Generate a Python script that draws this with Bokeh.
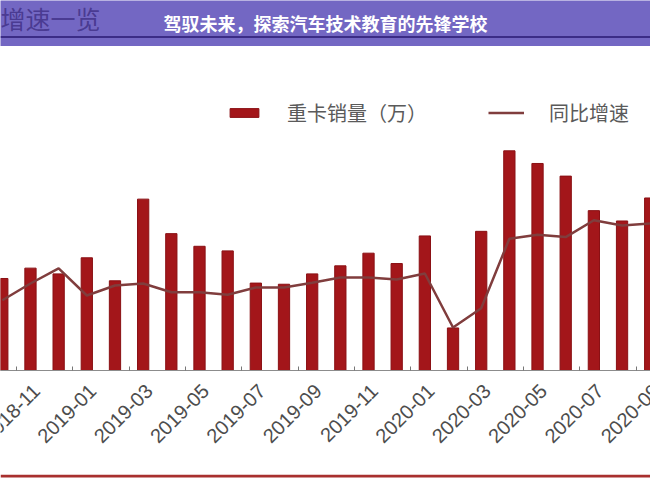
import math
from bokeh.plotting import figure
from bokeh.layouts import column
from bokeh.models import (Range1d, FixedTicker, Legend, LegendItem, Label, Span,
                          ColumnDataSource)
from bokeh.core.properties import value
from bokeh.embed import file_html
from bokeh.resources import INLINE
from bokeh.core.validation import silence
from bokeh.core.validation.warnings import MISSING_RENDERERS

silence(MISSING_RENDERERS, True)

# ---------------- data ----------------
months = ["2018-10", "2018-11", "2018-12", "2019-01", "2019-02", "2019-03",
          "2019-04", "2019-05", "2019-06", "2019-07", "2019-08", "2019-09",
          "2019-10", "2019-11", "2019-12", "2020-01", "2020-02", "2020-03",
          "2020-04", "2020-05", "2020-06", "2020-07", "2020-08", "2020-09"]
sales = [8.0, 8.9, 8.4, 9.8, 7.8, 14.9, 11.9, 10.8, 10.4, 7.6, 7.5, 8.4,
         9.1, 10.2, 9.3, 11.7, 3.7, 12.1, 19.1, 18.0, 16.9, 13.9, 13.0, 15.0]
growth = [-16, 5, 24, -10, 2.5, 5, -6, -6, -9, 0, 0, 6,
          12.5, 12.5, 10, 17.5, -50, -26, 61, 66, 63, 84, 77.5, 80]
tick_labels = ["2018-11", "2019-01", "2019-03", "2019-05", "2019-07", "2019-09",
               "2019-11", "2020-01", "2020-03", "2020-05", "2020-07", "2020-09"]
series_names = ["重卡销量（万）", "同比增速"]
title_text = "驾驭未来，探索汽车技术教育的先锋学校"
banner_text = "增速一览"

xs = list(range(len(months)))
src = ColumnDataSource(dict(x=xs, month=months, sales=sales, growth=growth))
odd = [i for i in xs if i % 2 == 1]
lbl_src = ColumnDataSource(dict(x=odd, text=tick_labels))

PURPLE = "#7367c3"
BAR = "#a3161a"
LINE = "#803d3d"

# ---------------- header ----------------
hdr = figure(width=650, height=46, x_range=Range1d(0, 650), y_range=Range1d(0, 46),
             toolbar_location=None, output_backend="svg", min_border=0,
             x_axis_location=None, y_axis_location=None,
             background_fill_color=PURPLE, border_fill_color=PURPLE,
             outline_line_color=None)
hdr.xgrid.visible = False
hdr.ygrid.visible = False
hdr.add_layout(Label(x=0, y=29, text=banner_text, text_align="left", text_baseline="middle",
                     text_color="#45358c", text_font="Noto Sans CJK SC",
                     text_font_size="25px", text_alpha=0.9))
hdr.add_layout(Label(x=325, y=24, text=title_text, text_align="center", text_baseline="middle",
                     text_color="white", text_font="Noto Sans CJK SC",
                     text_font_style="bold", text_font_size="18px"))
hdr.add_layout(Span(location=9.5, dimension="width", line_color="#3b2c86", line_width=2))

# ---------------- main chart ----------------
xr = Range1d(-0.064, 23.01)
p = figure(width=650, height=325, x_range=xr, y_range=Range1d(0, 28.17),
           toolbar_location=None, output_backend="svg", y_axis_location=None,
           min_border_left=0, min_border_right=0, min_border_top=0, min_border_bottom=1,
           outline_line_color=None, background_fill_color="white", border_fill_color="white")
p.extra_y_ranges = {"g": Range1d(-103.75, 301.25)}
p.xgrid.visible = False
p.ygrid.visible = False

bars = p.vbar(x="x", top="sales", width=0.4, source=src,
              fill_color=BAR, line_color="#8a1014", line_width=1)
line = p.line(x="x", y="growth", source=src, y_range_name="g",
              line_color=LINE, line_width=2.5)

ax = p.xaxis[0]
ax.ticker = FixedTicker(ticks=[], minor_ticks=[i - 0.5 for i in odd])
ax.major_label_standoff = 0
ax.major_tick_line_color = None
ax.major_tick_in = 0
ax.major_tick_out = 0
ax.minor_tick_in = 4
ax.minor_tick_out = 0
ax.minor_tick_line_color = "#777777"
ax.axis_line_color = "#8c8c8c"
ax.axis_line_width = 1.2

legend = Legend(items=[LegendItem(label=series_names[0], renderers=[bars]),
                       LegendItem(label=series_names[1], renderers=[line])],
                orientation="horizontal", location=(226, 243),
                glyph_width=36, glyph_height=11, label_standoff=25, spacing=61,
                padding=0, margin=0, border_line_color=None, background_fill_alpha=0,
                label_text_font="Noto Sans CJK SC", label_text_font_size="20px",
                label_text_color="#5a5a5a")
p.add_layout(legend)

# ---------------- rotated month labels strip (shares the x scale) ----------------
strip = figure(width=650, height=100, x_range=xr, y_range=Range1d(0, 100),
               toolbar_location=None, output_backend="svg", min_border=0,
               x_axis_location=None, y_axis_location=None,
               background_fill_color="white", border_fill_color="white",
               outline_line_color=None)
strip.xgrid.visible = False
strip.ygrid.visible = False
strip.text(x="x", y=89, text="text", source=lbl_src, angle=math.pi / 4,
           x_offset=1, text_align="right", text_baseline="top",
           text_font=value("Liberation Sans"), text_font_size="20px", text_color="#4d4d4d")

# ---------------- footer ----------------
ftr = figure(width=650, height=9, x_range=Range1d(0, 650), y_range=Range1d(0, 9),
             toolbar_location=None, output_backend="svg", min_border=0,
             x_axis_location=None, y_axis_location=None,
             background_fill_color="white", border_fill_color="white",
             outline_line_color=None)
ftr.xgrid.visible = False
ftr.ygrid.visible = False
ftr.add_layout(Span(location=7.5, dimension="width", line_color="#a8302e", line_width=3))

layout = column(hdr, p, strip, ftr, spacing=0)
open("out.html", "w").write(file_html(layout, INLINE))
